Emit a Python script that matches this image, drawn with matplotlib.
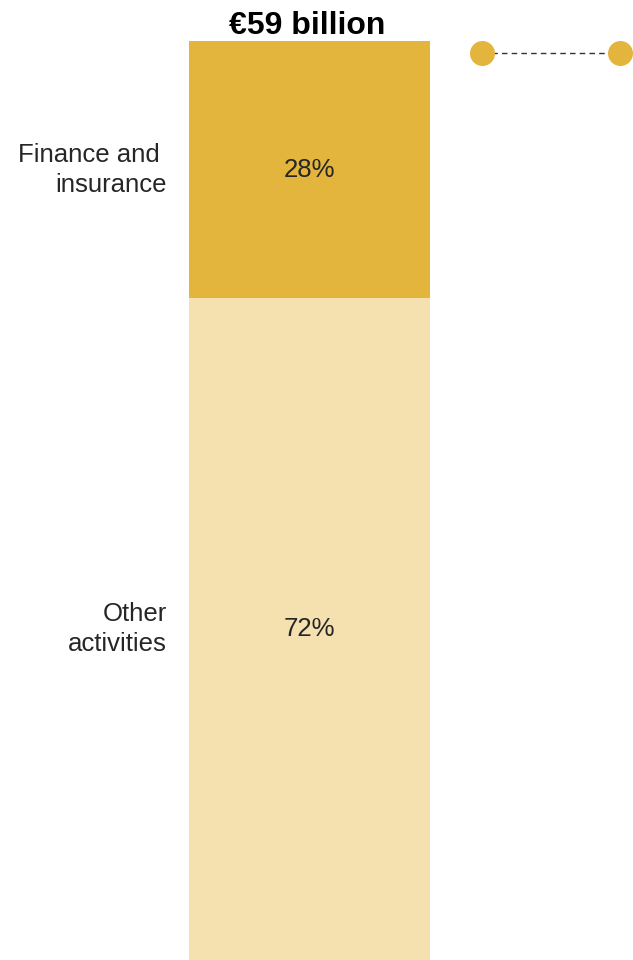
import matplotlib.pyplot as plt

plt.rcParams['font.family'] = ['Liberation Sans', 'DejaVu Sans']

# Share of the total by activity
categories = ["Finance and \ninsurance", "Other\nactivities"]
shares = [28, 72]
colors = ["#E3B53D", "#F5E1B0"]
total_label = "€59 billion"

W, H = 633, 960
fig = plt.figure(figsize=(W / 100, H / 100), dpi=100)

# bar axes: 0% at the top of the bar, 100% at the bottom of the figure
bar_top = 41
ax = fig.add_axes([0, 0, 1, (H - bar_top) / H])
bar_px = 241
center_px = 309.5
ax.set_xlim(-center_px / bar_px, (W - center_px) / bar_px)
ax.set_ylim(100, 0)
ax.axis("off")

bottom = 0
for cat, val, col in zip(categories, shares, colors):
    ax.bar(0, val, width=1, bottom=bottom, color=col, align="center")
    mid = bottom + val / 2
    ax.text(0, mid, f"{val}%", ha="center", va="center", fontsize=18.5, color="#262626")
    ax.text(-0.5 - 22 / bar_px, mid, cat, ha="right", va="center", fontsize=18.5,
            color="#262626", linespacing=1.3)
    bottom += val

ax.text(-0.01, 0, total_label, ha="center", va="bottom", fontsize=23,
        fontweight="bold", color="black")

# legend-style dots joined by a dashed line
lax = fig.add_axes([0, 0, 1, 1])
lax.set_xlim(0, W)
lax.set_ylim(H, 0)
lax.axis("off")
lax.plot([482, 620], [53, 53], color="#333333", lw=1, ls=(0, (4, 3)), zorder=1)
lax.plot([482, 620], [53, 53], ls="none", marker="o", ms=18, color="#E3B53D",
         mec="none", zorder=2)

fig.savefig("out.png", dpi=100)
